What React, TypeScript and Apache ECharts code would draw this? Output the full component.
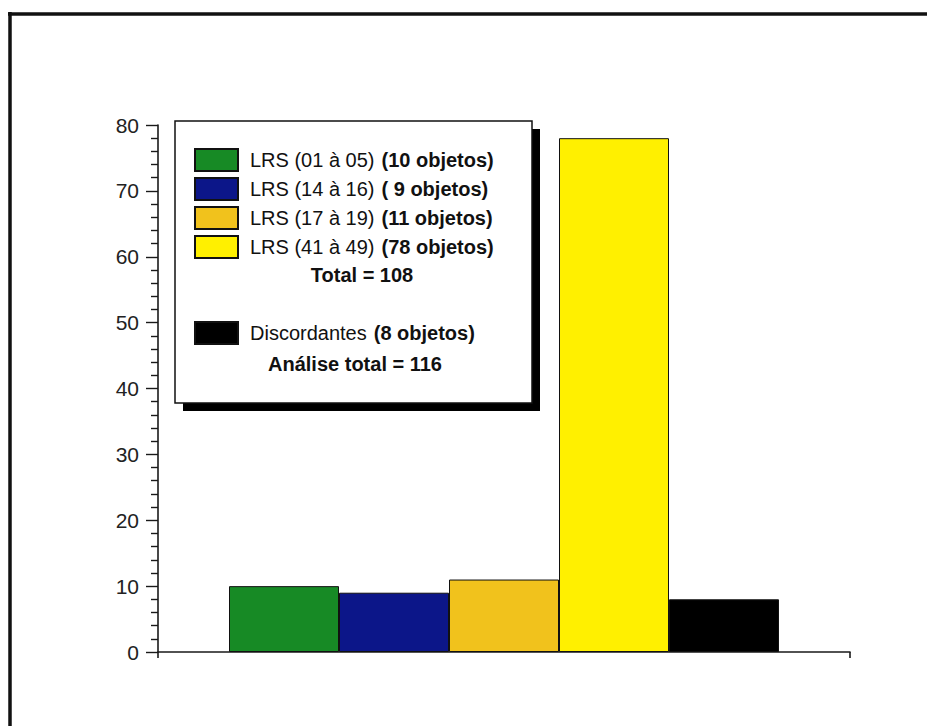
import React, { useEffect, useRef } from "react";
import * as echarts from "echarts";

const seriesNames = ["LRS (01 à 05)", "LRS (14 à 16)", "LRS (17 à 19)", "LRS (41 à 49)", "Discordantes"];
const seriesValues = [10, 9, 11, 78, 8];
const seriesColors = ["#178a25", "#0c1689", "#f1c21c", "#fff000", "#000000"];
const categories = [""];
const yTicks = { min: 0, max: 80, interval: 10 };

const FONT = "'Liberation Sans', Arial, Helvetica, sans-serif";

export default function App() {
  const ref = useRef<HTMLDivElement>(null);
  useEffect(() => {
    if (!ref.current) return;
    const chart = echarts.init(ref.current, null, { renderer: "svg" });
    const lrsNames = seriesNames.slice(0, 4);
    const total = seriesValues.slice(0, 4).reduce((a, b) => a + b, 0);
    const grand = total + seriesValues[4];
    const countOf = (name: string) => seriesValues[seriesNames.indexOf(name)];
    const richStyles = {
      n: { fontFamily: FONT, fontSize: 20, lineHeight: 22, color: "#111", padding: [0, 0, 0, 7] },
      b: { fontFamily: FONT, fontSize: 20, lineHeight: 22, color: "#111", fontWeight: "bold", padding: [0, 0, 0, 7] },
    };
    const option: any = {
      animation: false,
      backgroundColor: "#ffffff",
      grid: { left: 158, right: 77, top: 125, bottom: 74, containLabel: false },
      xAxis: {
        type: "category",
        data: categories,
        boundaryGap: true,
        axisLine: { show: true, lineStyle: { color: "#1a1a1a", width: 1.6 } },
        axisTick: { show: true, length: 6, lineStyle: { color: "#1a1a1a", width: 1.6 } },
        axisLabel: { show: false },
        splitLine: { show: false },
      },
      yAxis: {
        type: "value",
        min: yTicks.min,
        max: yTicks.max,
        interval: yTicks.interval,
        axisLine: { show: true, lineStyle: { color: "#1a1a1a", width: 1.6 } },
        axisTick: { show: true, length: 12, lineStyle: { color: "#1a1a1a", width: 1.4 } },
        minorTick: { show: true, splitNumber: 5, length: 7, lineStyle: { color: "#1a1a1a", width: 1.4 } },
        splitLine: { show: false },
        axisLabel: { fontFamily: FONT, fontSize: 21, color: "#222", margin: 19 },
      },
      legend: [
        {
          data: lrsNames,
          orient: "vertical",
          left: 194,
          top: 148,
          padding: 0,
          itemWidth: 43,
          itemHeight: 22,
          itemGap: 5,
          icon: "rect",
          z: 10,
          textStyle: { rich: richStyles },
          formatter: (name: string) => {
            const v = countOf(name);
            return `{n|${name}}{b|(${v < 10 ? " " : ""}${v} objetos)}`;
          },
        },
        {
          data: [seriesNames[4]],
          orient: "vertical",
          left: 194,
          top: 321,
          padding: 0,
          itemWidth: 43,
          itemHeight: 22,
          icon: "rect",
          z: 10,
          textStyle: { rich: richStyles },
          formatter: (name: string) => `{n|${name}}{b|(${countOf(name)} objetos)}`,
        },
      ],
      graphic: [
        { type: "line", z: 1, shape: { x1: 10, y1: 12, x2: 10, y2: 740 }, style: { stroke: "#111", lineWidth: 3.5 } },
        { type: "line", z: 1, shape: { x1: 8, y1: 14, x2: 940, y2: 14 }, style: { stroke: "#111", lineWidth: 3.5 } },
        { type: "rect", z: 2, shape: { x: 183, y: 129, width: 357, height: 282 }, style: { fill: "#000" } },
        { type: "rect", z: 3, shape: { x: 175, y: 121, width: 357, height: 282 }, style: { fill: "#fff", stroke: "#111", lineWidth: 1.5 } },
        {
          type: "text", z: 11, x: 362, y: 275,
          style: { text: `Total = ${total}`, fontFamily: FONT, fontSize: 20, fontWeight: "bold", fill: "#111", align: "center", verticalAlign: "middle" },
        },
        {
          type: "text", z: 11, x: 355, y: 364,
          style: { text: `Análise total = ${grand}`, fontFamily: FONT, fontSize: 20, fontWeight: "bold", fill: "#111", align: "center", verticalAlign: "middle" },
        },
      ],
      series: seriesNames.map((name, i) => ({
        name,
        type: "bar",
        data: [seriesValues[i]],
        barWidth: 110,
        barGap: "0%",
        itemStyle: { color: seriesColors[i], borderColor: "#111", borderWidth: 1 },
      })),
    };
    chart.setOption(option);
    return () => chart.dispose();
  }, []);
  return <div ref={ref} style={{ position: "fixed", left: 0, top: 0, width: 927, height: 726 }} />;
}
